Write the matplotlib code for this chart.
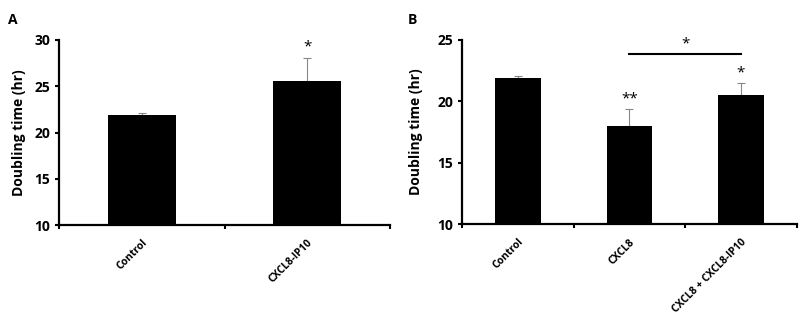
import matplotlib
matplotlib.use("Agg")
import matplotlib.pyplot as plt
import numpy as np

plt.rcParams['font.family'] = ['Open Sans', 'DejaVu Sans']
plt.rcParams['font.weight'] = 'bold'

# panel A
cats_a = ['Control', 'CXCL8-IP10']
vals_a = [21.9, 25.6]
errs_a = [0.2, 2.4]

# panel B
cats_b = ['Control', 'CXCL8', 'CXCL8 + CXCL8-IP10']
vals_b = [21.9, 18.0, 20.5]
errs_b = [0.2, 1.4, 1.0]
stars_b = ['', '**', '*']
bracket_b = 23.85


def draw_panel(ax, cats, vals, errs, ylim, yticks, pad):
    x = np.arange(len(cats))
    ax.bar(x, vals, width=0.41, color='black', zorder=2)
    ax.errorbar(x, vals, yerr=[np.zeros(len(vals)), errs], fmt='none',
                ecolor='#888888', elinewidth=0.8, capsize=3, capthick=0.8, zorder=1)
    ax.set_xlim(-0.5, len(cats) - 0.5)
    ax.set_ylim(*ylim)
    ax.set_yticks(yticks)
    ax.set_xticks(x)
    ax.set_xticklabels(cats, rotation=45, ha='right', rotation_mode='anchor', fontsize=7.5)
    ax.tick_params(axis='x', which='major', length=0, pad=9)
    ax.set_xticks(np.arange(len(cats) + 1) - 0.5, minor=True)
    ax.tick_params(axis='x', which='minor', length=3, width=1.5, direction='out')
    ax.tick_params(axis='y', length=3, width=1.5, labelsize=10)
    for s in ['top', 'right']:
        ax.spines[s].set_visible(False)
    for s in ['left', 'bottom']:
        ax.spines[s].set_linewidth(1.6)
    ax.set_ylabel('Doubling time (hr)', fontsize=10, fontweight='bold', labelpad=pad)
    return x


fig = plt.figure(figsize=(8, 3.17), dpi=100)
ax_a = fig.add_axes([0.074, 0.29, 0.4135, 0.584])
ax_b = fig.add_axes([0.5775, 0.293, 0.4185, 0.581])

xa = draw_panel(ax_a, cats_a, vals_a, errs_a, (10, 30), [10, 15, 20, 25, 30], 6)
ax_a.text(xa[1], vals_a[1] + errs_a[1] + 0.4, '*', ha='center', va='bottom', fontsize=11, fontweight='normal')

xb = draw_panel(ax_b, cats_b, vals_b, errs_b, (10, 25), [10, 15, 20, 25], 10)
for i in range(len(cats_b)):
    if stars_b[i]:
        ax_b.text(xb[i], vals_b[i] + errs_b[i] + 0.2, stars_b[i], ha='center', va='bottom',
                  fontsize=11, fontweight='normal')
ax_b.plot([xb[1], xb[2]], [bracket_b, bracket_b], color='black', lw=1.5)
ax_b.text((xb[1] + xb[2]) / 2, bracket_b + 0.25, '*', ha='center', va='bottom', fontsize=11, fontweight='normal')

fig.text(0.01, 0.96, 'A', fontsize=10, fontweight='bold', va='top')
fig.text(0.51, 0.96, 'B', fontsize=10, fontweight='bold', va='top')

fig.savefig('out.png', dpi=100)
